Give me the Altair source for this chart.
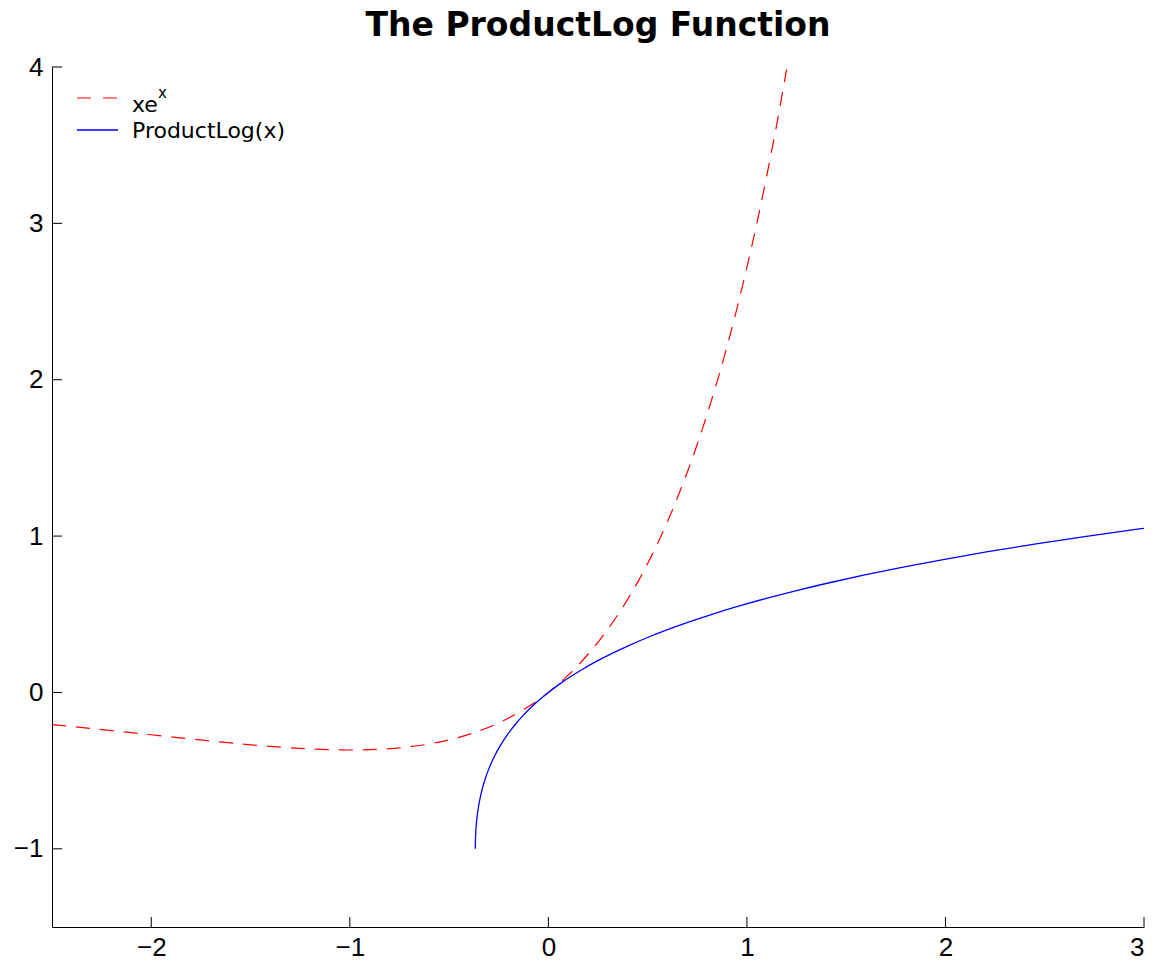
import altair as alt
import pandas as pd

# x*e^x curve samples
xe_x = [-2.5, -2.4, -2.3, -2.2, -2.1, -2.0, -1.9, -1.8, -1.7, -1.6, -1.5, -1.4, -1.3, -1.2, -1.1,
        -1.0, -0.95, -0.9, -0.85, -0.8, -0.75, -0.7, -0.65, -0.6, -0.55, -0.5, -0.45, -0.4,
        -0.35, -0.3, -0.25, -0.2, -0.15, -0.1, -0.05, 0.0, 0.05, 0.1, 0.15, 0.2, 0.25, 0.3,
        0.35, 0.4, 0.45, 0.5, 0.55, 0.6, 0.65, 0.7, 0.75, 0.8, 0.85, 0.9, 0.95, 1.0, 1.05,
        1.1, 1.15, 1.2]
xe_y = [-0.20521, -0.21772, -0.23060, -0.24377, -0.25716, -0.27067, -0.28418, -0.29754,
        -0.31056, -0.32303, -0.33470, -0.34524, -0.35429, -0.36143, -0.36616, -0.36788,
        -0.36740, -0.36591, -0.36330, -0.35946, -0.35428, -0.34761, -0.33933, -0.32929,
        -0.31732, -0.30327, -0.28693, -0.26813, -0.24664, -0.22225, -0.19470, -0.16375,
        -0.12911, -0.09048, -0.04756, 0.0, 0.05256, 0.11052, 0.17428, 0.24428, 0.32101,
        0.40496, 0.49667, 0.59673, 0.70574, 0.82436, 0.95329, 1.09327, 1.24510, 1.40963,
        1.58775, 1.78043, 1.98870, 2.21364, 2.45642, 2.71828, 3.00053, 3.30458, 3.63192,
        3.98414]

# ProductLog curve samples
pl_x = [-0.36788, -0.36786, -0.36780, -0.36771, -0.36740, -0.36591, -0.36330, -0.35946,
        -0.35428, -0.34761, -0.33933, -0.32929, -0.31732, -0.30327, -0.28693, -0.26813,
        -0.24664, -0.22225, -0.19470, -0.16375, -0.12911, -0.09048, -0.04756, 0.0, 0.05256,
        0.11052, 0.17428, 0.24428, 0.32101, 0.40496, 0.49667, 0.59673, 0.70574, 0.82436,
        0.95329, 1.09327, 1.24510, 1.40963, 1.58775, 1.78043, 1.98870, 2.21364, 2.45642,
        2.71828, 3.0]
pl_y = [-1.0, -0.99, -0.98, -0.97, -0.95, -0.9, -0.85, -0.8, -0.75, -0.7, -0.65, -0.6, -0.55,
        -0.5, -0.45, -0.4, -0.35, -0.3, -0.25, -0.2, -0.15, -0.1, -0.05, 0.0, 0.05, 0.1, 0.15,
        0.2, 0.25, 0.3, 0.35, 0.4, 0.45, 0.5, 0.55, 0.6, 0.65, 0.7, 0.75, 0.8, 0.85, 0.9,
        0.95, 1.0, 1.0499]

x_ticks = [-2, -1, 0, 1, 2, 3]
y_ticks = [-1, 0, 1, 2, 3, 4]

W, H = 1092, 860
FONT = "DejaVu Sans"
TICKFONT = "Liberation Sans"

xscale = alt.Scale(domain=[-2.5, 3], nice=False, zero=False)
yscale = alt.Scale(domain=[-1.5, 4], nice=False, zero=False)

df_xe = pd.DataFrame({"x": xe_x, "y": xe_y, "i": list(range(len(xe_x)))})
df_pl = pd.DataFrame({"x": pl_x, "y": pl_y, "i": list(range(len(pl_x)))})

xaxis = alt.Axis(values=x_ticks, format="d", ticks=False, grid=False, title=None,
                 labelFont=TICKFONT, labelFontSize=26, labelColor="black", labelPadding=7,
                 domainColor="black", domainWidth=1)
yaxis = alt.Axis(values=y_ticks, format="d", ticks=False, grid=False, title=None,
                 labelFont=TICKFONT, labelFontSize=26, labelColor="black", labelPadding=9,
                 domainColor="black", domainWidth=1)

red = alt.Chart(df_xe).mark_line(color="#ff0000", strokeWidth=1.2, strokeDash=[14, 10],
                                 interpolate="monotone").encode(
    x=alt.X("x:Q", scale=xscale, axis=xaxis),
    y=alt.Y("y:Q", scale=yscale, axis=yaxis),
    order="i:O",
)
blue = alt.Chart(df_pl).mark_line(color="#0000ff", strokeWidth=1.3,
                                  interpolate="monotone").encode(
    x=alt.X("x:Q", scale=xscale),
    y=alt.Y("y:Q", scale=yscale),
    order="i:O",
)

# inward ticks
xt = alt.Chart(pd.DataFrame({"t": x_ticks})).mark_rule(color="black", strokeWidth=1).encode(
    x=alt.X("t:Q", scale=xscale), y=alt.value(H), y2=alt.value(H - 10))
yt = alt.Chart(pd.DataFrame({"t": y_ticks})).mark_rule(color="black", strokeWidth=1).encode(
    y=alt.Y("t:Q", scale=yscale), x=alt.value(0), x2=alt.value(10))

one = pd.DataFrame({"a": [0]})
leg_red = alt.Chart(one).mark_rule(color="#ff0000", strokeWidth=1.2, strokeDash=[14, 12]).encode(
    x=alt.value(25), x2=alt.value(66), y=alt.value(31))
leg_blue = alt.Chart(one).mark_rule(color="#0000ff", strokeWidth=1.3).encode(
    x=alt.value(25), x2=alt.value(66), y=alt.value(63))
leg_t1 = alt.Chart(one).mark_text(align="left", baseline="alphabetic", font=FONT, fontSize=22,
                                  color="black").encode(
    x=alt.value(80), y=alt.value(45), text=alt.value("xe"))
leg_t1s = alt.Chart(one).mark_text(align="left", baseline="alphabetic", font=FONT, fontSize=15,
                                   color="black").encode(
    x=alt.value(106), y=alt.value(31), text=alt.value("x"))
leg_t2 = alt.Chart(one).mark_text(align="left", baseline="alphabetic", font=FONT, fontSize=22,
                                  color="black").encode(
    x=alt.value(80), y=alt.value(71), text=alt.value("ProductLog(x)"))

chart = alt.layer(red, blue, xt, yt, leg_red, leg_blue, leg_t1, leg_t1s, leg_t2).properties(
    width=W, height=H,
    title=alt.Title("The ProductLog Function", font=FONT, fontSize=33, fontWeight="bold",
                    color="black", anchor="middle", offset=11),
    autosize=alt.AutoSizeParams(type="none"),
    padding={"left": 52, "top": 67, "right": 19, "bottom": 42},
    background="white",
).configure_view(stroke=None)

chart.save("out.html", embed_options={"renderer": "svg", "actions": False})
